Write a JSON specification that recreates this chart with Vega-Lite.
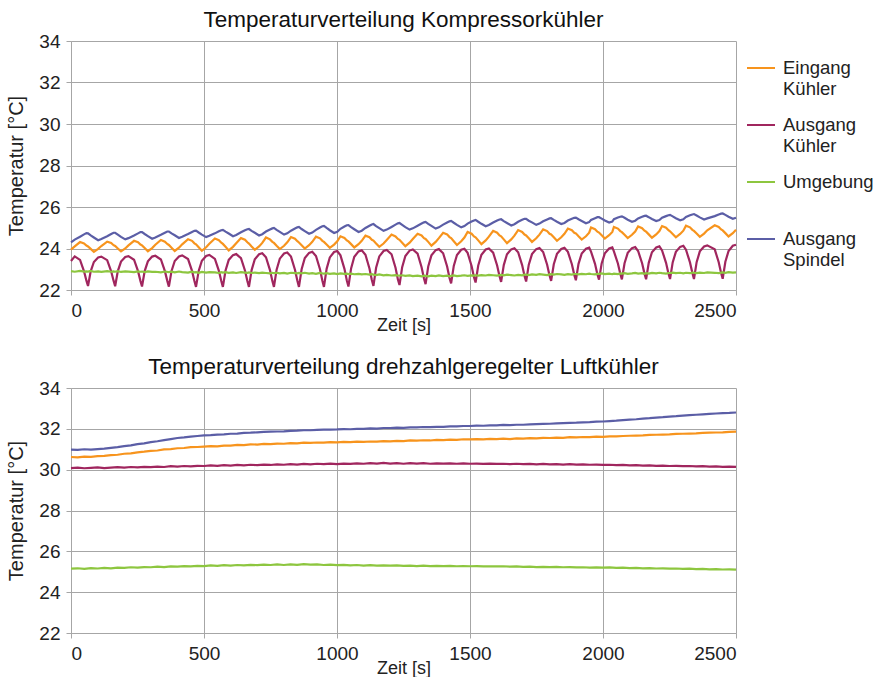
{
"$schema": "https://vega.github.io/schema/vega-lite/v6.json",
"background": "white",
"padding": {"left": 6, "top": 8, "right": 0, "bottom": 0},
"config": {
  "font": "Liberation Sans",
  "view": {"stroke": null},
  "axis": {"gridColor": "#a6a6a6", "domainColor": "#a6a6a6", "tickColor": "#a6a6a6", "labelFontSize": 19, "labelColor": "#222222", "titleFontWeight": "normal", "titleColor": "#222222", "tickSize": 5, "labelPadding": 6, "format": "d"},
  "axisX": {"titleFontSize": 18, "titlePadding": -4},
  "axisY": {"titleFontSize": 20, "titlePadding": 12},
  "title": {"fontSize": 22.5, "fontWeight": "normal", "color": "#111111", "offset": 1, "frame": "group"}
},
"datasets": {
"top": [
{"t":0,"ek":23.95,"ak":23.40,"u":22.91,"sp":24.30},
{"t":14,"ek":24.10,"ak":23.62,"u":22.88,"sp":24.43},
{"t":34,"ek":24.31,"ak":23.45,"u":22.92,"sp":24.57},
{"t":49,"ek":24.24,"ak":22.90,"u":22.89,"sp":24.68},
{"t":58,"ek":24.14,"ak":22.45,"u":22.90,"sp":24.74},
{"t":64,"ek":24.10,"ak":22.19,"u":22.89,"sp":24.73},
{"t":74,"ek":23.98,"ak":22.90,"u":22.92,"sp":24.63},
{"t":86,"ek":23.84,"ak":23.35,"u":22.88,"sp":24.53},
{"t":102,"ek":23.98,"ak":23.57,"u":22.90,"sp":24.40},
{"t":114,"ek":24.12,"ak":23.61,"u":22.87,"sp":24.46},
{"t":136,"ek":24.33,"ak":23.44,"u":22.91,"sp":24.59},
{"t":151,"ek":24.27,"ak":22.90,"u":22.88,"sp":24.70},
{"t":160,"ek":24.16,"ak":22.45,"u":22.90,"sp":24.76},
{"t":166,"ek":24.12,"ak":22.18,"u":22.88,"sp":24.76},
{"t":176,"ek":24.00,"ak":22.91,"u":22.91,"sp":24.67},
{"t":188,"ek":23.86,"ak":23.37,"u":22.87,"sp":24.56},
{"t":204,"ek":24.00,"ak":23.59,"u":22.90,"sp":24.44},
{"t":216,"ek":24.15,"ak":23.63,"u":22.89,"sp":24.50},
{"t":237,"ek":24.37,"ak":23.46,"u":22.86,"sp":24.63},
{"t":252,"ek":24.30,"ak":22.91,"u":22.90,"sp":24.73},
{"t":261,"ek":24.19,"ak":22.44,"u":22.88,"sp":24.79},
{"t":267,"ek":24.15,"ak":22.17,"u":22.89,"sp":24.79},
{"t":277,"ek":24.02,"ak":22.91,"u":22.86,"sp":24.70},
{"t":289,"ek":23.87,"ak":23.38,"u":22.90,"sp":24.60},
{"t":305,"ek":24.02,"ak":23.61,"u":22.87,"sp":24.47},
{"t":317,"ek":24.18,"ak":23.65,"u":22.88,"sp":24.53},
{"t":338,"ek":24.41,"ak":23.47,"u":22.85,"sp":24.66},
{"t":353,"ek":24.33,"ak":22.91,"u":22.89,"sp":24.76},
{"t":362,"ek":24.22,"ak":22.44,"u":22.87,"sp":24.82},
{"t":368,"ek":24.17,"ak":22.16,"u":22.86,"sp":24.82},
{"t":378,"ek":24.04,"ak":22.92,"u":22.88,"sp":24.73},
{"t":390,"ek":23.88,"ak":23.40,"u":22.85,"sp":24.64},
{"t":406,"ek":24.04,"ak":23.62,"u":22.89,"sp":24.51},
{"t":418,"ek":24.20,"ak":23.67,"u":22.86,"sp":24.57},
{"t":440,"ek":24.45,"ak":23.49,"u":22.84,"sp":24.70},
{"t":455,"ek":24.37,"ak":22.92,"u":22.88,"sp":24.80},
{"t":464,"ek":24.25,"ak":22.43,"u":22.85,"sp":24.85},
{"t":470,"ek":24.20,"ak":22.15,"u":22.86,"sp":24.86},
{"t":480,"ek":24.06,"ak":22.92,"u":22.83,"sp":24.77},
{"t":492,"ek":23.89,"ak":23.41,"u":22.87,"sp":24.67},
{"t":508,"ek":24.06,"ak":23.64,"u":22.84,"sp":24.55},
{"t":520,"ek":24.23,"ak":23.69,"u":22.86,"sp":24.61},
{"t":541,"ek":24.48,"ak":23.50,"u":22.85,"sp":24.73},
{"t":556,"ek":24.40,"ak":22.92,"u":22.82,"sp":24.83},
{"t":565,"ek":24.28,"ak":22.43,"u":22.86,"sp":24.88},
{"t":571,"ek":24.22,"ak":22.15,"u":22.84,"sp":24.90},
{"t":581,"ek":24.08,"ak":22.94,"u":22.86,"sp":24.81},
{"t":593,"ek":23.91,"ak":23.45,"u":22.83,"sp":24.72},
{"t":609,"ek":24.08,"ak":23.68,"u":22.85,"sp":24.59},
{"t":621,"ek":24.25,"ak":23.73,"u":22.82,"sp":24.65},
{"t":639,"ek":24.50,"ak":23.54,"u":22.86,"sp":24.78},
{"t":654,"ek":24.42,"ak":22.94,"u":22.84,"sp":24.88},
{"t":663,"ek":24.30,"ak":22.43,"u":22.83,"sp":24.93},
{"t":669,"ek":24.24,"ak":22.15,"u":22.85,"sp":24.94},
{"t":679,"ek":24.10,"ak":22.96,"u":22.82,"sp":24.85},
{"t":691,"ek":23.94,"ak":23.48,"u":22.84,"sp":24.76},
{"t":707,"ek":24.10,"ak":23.72,"u":22.81,"sp":24.63},
{"t":719,"ek":24.27,"ak":23.77,"u":22.84,"sp":24.69},
{"t":733,"ek":24.53,"ak":23.58,"u":22.82,"sp":24.82},
{"t":748,"ek":24.44,"ak":22.96,"u":22.80,"sp":24.92},
{"t":757,"ek":24.32,"ak":22.44,"u":22.83,"sp":24.97},
{"t":763,"ek":24.27,"ak":22.15,"u":22.81,"sp":24.99},
{"t":773,"ek":24.13,"ak":22.98,"u":22.83,"sp":24.90},
{"t":785,"ek":23.97,"ak":23.51,"u":22.80,"sp":24.80},
{"t":801,"ek":24.13,"ak":23.76,"u":22.82,"sp":24.67},
{"t":813,"ek":24.30,"ak":23.81,"u":22.79,"sp":24.73},
{"t":827,"ek":24.55,"ak":23.61,"u":22.83,"sp":24.86},
{"t":842,"ek":24.47,"ak":22.98,"u":22.81,"sp":24.96},
{"t":851,"ek":24.35,"ak":22.45,"u":22.80,"sp":25.02},
{"t":857,"ek":24.29,"ak":22.15,"u":22.82,"sp":25.04},
{"t":867,"ek":24.16,"ak":23.00,"u":22.80,"sp":24.94},
{"t":879,"ek":24.00,"ak":23.54,"u":22.83,"sp":24.84},
{"t":895,"ek":24.16,"ak":23.79,"u":22.79,"sp":24.71},
{"t":907,"ek":24.32,"ak":23.84,"u":22.81,"sp":24.77},
{"t":921,"ek":24.57,"ak":23.64,"u":22.78,"sp":24.90},
{"t":936,"ek":24.49,"ak":23.00,"u":22.82,"sp":25.01},
{"t":945,"ek":24.37,"ak":22.45,"u":22.80,"sp":25.07},
{"t":951,"ek":24.32,"ak":22.15,"u":22.79,"sp":25.09},
{"t":961,"ek":24.19,"ak":23.02,"u":22.81,"sp":24.99},
{"t":973,"ek":24.03,"ak":23.57,"u":22.78,"sp":24.88},
{"t":989,"ek":24.19,"ak":23.83,"u":22.80,"sp":24.75},
{"t":1001,"ek":24.35,"ak":23.88,"u":22.77,"sp":24.81},
{"t":1013,"ek":24.59,"ak":23.67,"u":22.80,"sp":24.95},
{"t":1028,"ek":24.51,"ak":23.02,"u":22.78,"sp":25.06},
{"t":1037,"ek":24.39,"ak":22.46,"u":22.79,"sp":25.12},
{"t":1043,"ek":24.34,"ak":22.17,"u":22.77,"sp":25.13},
{"t":1053,"ek":24.21,"ak":23.04,"u":22.79,"sp":25.03},
{"t":1065,"ek":24.05,"ak":23.60,"u":22.76,"sp":24.93},
{"t":1081,"ek":24.21,"ak":23.86,"u":22.78,"sp":24.80},
{"t":1093,"ek":24.37,"ak":23.91,"u":22.75,"sp":24.86},
{"t":1107,"ek":24.62,"ak":23.70,"u":22.77,"sp":24.99},
{"t":1122,"ek":24.54,"ak":23.04,"u":22.74,"sp":25.10},
{"t":1131,"ek":24.42,"ak":22.48,"u":22.76,"sp":25.16},
{"t":1137,"ek":24.38,"ak":22.20,"u":22.74,"sp":25.18},
{"t":1147,"ek":24.24,"ak":23.07,"u":22.72,"sp":25.08},
{"t":1159,"ek":24.08,"ak":23.62,"u":22.75,"sp":24.98},
{"t":1175,"ek":24.24,"ak":23.88,"u":22.71,"sp":24.85},
{"t":1187,"ek":24.41,"ak":23.93,"u":22.73,"sp":24.91},
{"t":1205,"ek":24.67,"ak":23.72,"u":22.70,"sp":25.04},
{"t":1220,"ek":24.58,"ak":23.07,"u":22.72,"sp":25.15},
{"t":1229,"ek":24.46,"ak":22.51,"u":22.70,"sp":25.21},
{"t":1235,"ek":24.42,"ak":22.24,"u":22.69,"sp":25.23},
{"t":1245,"ek":24.28,"ak":23.10,"u":22.71,"sp":25.14},
{"t":1257,"ek":24.11,"ak":23.64,"u":22.68,"sp":25.03},
{"t":1273,"ek":24.28,"ak":23.90,"u":22.70,"sp":24.91},
{"t":1285,"ek":24.46,"ak":23.95,"u":22.67,"sp":24.97},
{"t":1303,"ek":24.71,"ak":23.75,"u":22.69,"sp":25.10},
{"t":1318,"ek":24.63,"ak":23.10,"u":22.66,"sp":25.20},
{"t":1327,"ek":24.50,"ak":22.55,"u":22.69,"sp":25.26},
{"t":1333,"ek":24.46,"ak":22.28,"u":22.68,"sp":25.28},
{"t":1343,"ek":24.32,"ak":23.13,"u":22.66,"sp":25.19},
{"t":1355,"ek":24.14,"ak":23.67,"u":22.69,"sp":25.09},
{"t":1371,"ek":24.32,"ak":23.92,"u":22.67,"sp":24.96},
{"t":1383,"ek":24.50,"ak":23.97,"u":22.70,"sp":25.02},
{"t":1399,"ek":24.76,"ak":23.77,"u":22.67,"sp":25.15},
{"t":1414,"ek":24.68,"ak":23.13,"u":22.69,"sp":25.25},
{"t":1423,"ek":24.55,"ak":22.58,"u":22.66,"sp":25.31},
{"t":1429,"ek":24.50,"ak":22.32,"u":22.68,"sp":25.33},
{"t":1439,"ek":24.35,"ak":23.16,"u":22.70,"sp":25.24},
{"t":1451,"ek":24.17,"ak":23.69,"u":22.67,"sp":25.14},
{"t":1467,"ek":24.35,"ak":23.94,"u":22.69,"sp":25.02},
{"t":1479,"ek":24.53,"ak":23.99,"u":22.71,"sp":25.08},
{"t":1491,"ek":24.80,"ak":23.79,"u":22.68,"sp":25.20},
{"t":1506,"ek":24.71,"ak":23.16,"u":22.70,"sp":25.30},
{"t":1515,"ek":24.58,"ak":22.62,"u":22.69,"sp":25.35},
{"t":1521,"ek":24.54,"ak":22.36,"u":22.71,"sp":25.38},
{"t":1531,"ek":24.39,"ak":23.18,"u":22.69,"sp":25.29},
{"t":1543,"ek":24.21,"ak":23.70,"u":22.72,"sp":25.19},
{"t":1559,"ek":24.39,"ak":23.95,"u":22.70,"sp":25.07},
{"t":1571,"ek":24.57,"ak":24.00,"u":22.73,"sp":25.13},
{"t":1587,"ek":24.85,"ak":23.80,"u":22.71,"sp":25.25},
{"t":1602,"ek":24.76,"ak":23.18,"u":22.69,"sp":25.35},
{"t":1611,"ek":24.63,"ak":22.66,"u":22.72,"sp":25.40},
{"t":1617,"ek":24.59,"ak":22.39,"u":22.73,"sp":25.41},
{"t":1627,"ek":24.44,"ak":23.20,"u":22.71,"sp":25.32},
{"t":1639,"ek":24.26,"ak":23.72,"u":22.74,"sp":25.23},
{"t":1655,"ek":24.44,"ak":23.96,"u":22.72,"sp":25.11},
{"t":1667,"ek":24.62,"ak":24.01,"u":22.70,"sp":25.17},
{"t":1681,"ek":24.89,"ak":23.82,"u":22.73,"sp":25.29},
{"t":1696,"ek":24.80,"ak":23.20,"u":22.71,"sp":25.38},
{"t":1705,"ek":24.67,"ak":22.68,"u":22.74,"sp":25.43},
{"t":1711,"ek":24.63,"ak":22.41,"u":22.74,"sp":25.43},
{"t":1721,"ek":24.49,"ak":23.22,"u":22.72,"sp":25.34},
{"t":1733,"ek":24.32,"ak":23.73,"u":22.75,"sp":25.26},
{"t":1749,"ek":24.49,"ak":23.97,"u":22.73,"sp":25.14},
{"t":1761,"ek":24.67,"ak":24.02,"u":22.76,"sp":25.20},
{"t":1775,"ek":24.92,"ak":23.83,"u":22.74,"sp":25.31},
{"t":1790,"ek":24.84,"ak":23.22,"u":22.72,"sp":25.40},
{"t":1799,"ek":24.71,"ak":22.70,"u":22.75,"sp":25.45},
{"t":1805,"ek":24.68,"ak":22.44,"u":22.76,"sp":25.46},
{"t":1815,"ek":24.54,"ak":23.24,"u":22.74,"sp":25.38},
{"t":1827,"ek":24.37,"ak":23.74,"u":22.77,"sp":25.29},
{"t":1843,"ek":24.54,"ak":23.98,"u":22.75,"sp":25.18},
{"t":1855,"ek":24.71,"ak":24.03,"u":22.73,"sp":25.23},
{"t":1868,"ek":24.96,"ak":23.84,"u":22.76,"sp":25.35},
{"t":1883,"ek":24.88,"ak":23.24,"u":22.74,"sp":25.43},
{"t":1892,"ek":24.76,"ak":22.73,"u":22.77,"sp":25.48},
{"t":1898,"ek":24.73,"ak":22.47,"u":22.77,"sp":25.49},
{"t":1908,"ek":24.59,"ak":23.26,"u":22.75,"sp":25.41},
{"t":1920,"ek":24.43,"ak":23.76,"u":22.78,"sp":25.33},
{"t":1936,"ek":24.59,"ak":23.99,"u":22.76,"sp":25.22},
{"t":1948,"ek":24.76,"ak":24.04,"u":22.79,"sp":25.27},
{"t":1955,"ek":25.01,"ak":23.85,"u":22.77,"sp":25.38},
{"t":1970,"ek":24.93,"ak":23.26,"u":22.75,"sp":25.46},
{"t":1979,"ek":24.81,"ak":22.75,"u":22.78,"sp":25.51},
{"t":1985,"ek":24.77,"ak":22.50,"u":22.78,"sp":25.51},
{"t":1995,"ek":24.64,"ak":23.28,"u":22.80,"sp":25.44},
{"t":2007,"ek":24.48,"ak":23.77,"u":22.77,"sp":25.35},
{"t":2023,"ek":24.64,"ak":24.00,"u":22.79,"sp":25.25},
{"t":2035,"ek":24.80,"ak":24.05,"u":22.76,"sp":25.30},
{"t":2041,"ek":25.04,"ak":23.86,"u":22.79,"sp":25.41},
{"t":2056,"ek":24.96,"ak":23.28,"u":22.77,"sp":25.49},
{"t":2065,"ek":24.84,"ak":22.78,"u":22.80,"sp":25.53},
{"t":2071,"ek":24.79,"ak":22.51,"u":22.79,"sp":25.55},
{"t":2081,"ek":24.66,"ak":23.29,"u":22.81,"sp":25.48},
{"t":2093,"ek":24.50,"ak":23.79,"u":22.78,"sp":25.39},
{"t":2109,"ek":24.66,"ak":24.02,"u":22.80,"sp":25.29},
{"t":2121,"ek":24.82,"ak":24.07,"u":22.82,"sp":25.34},
{"t":2132,"ek":25.06,"ak":23.88,"u":22.79,"sp":25.45},
{"t":2147,"ek":24.98,"ak":23.29,"u":22.81,"sp":25.53},
{"t":2156,"ek":24.86,"ak":22.79,"u":22.78,"sp":25.57},
{"t":2162,"ek":24.81,"ak":22.52,"u":22.81,"sp":25.58},
{"t":2172,"ek":24.68,"ak":23.31,"u":22.79,"sp":25.51},
{"t":2184,"ek":24.52,"ak":23.82,"u":22.82,"sp":25.42},
{"t":2200,"ek":24.68,"ak":24.05,"u":22.80,"sp":25.32},
{"t":2212,"ek":24.84,"ak":24.10,"u":22.83,"sp":25.37},
{"t":2222,"ek":25.08,"ak":23.91,"u":22.81,"sp":25.48},
{"t":2237,"ek":25.00,"ak":23.31,"u":22.79,"sp":25.56},
{"t":2246,"ek":24.88,"ak":22.80,"u":22.82,"sp":25.60},
{"t":2252,"ek":24.83,"ak":22.53,"u":22.82,"sp":25.62},
{"t":2262,"ek":24.70,"ak":23.33,"u":22.84,"sp":25.55},
{"t":2274,"ek":24.54,"ak":23.84,"u":22.81,"sp":25.46},
{"t":2290,"ek":24.70,"ak":24.08,"u":22.83,"sp":25.36},
{"t":2302,"ek":24.86,"ak":24.13,"u":22.80,"sp":25.41},
{"t":2312,"ek":25.10,"ak":23.94,"u":22.83,"sp":25.52},
{"t":2327,"ek":25.02,"ak":23.33,"u":22.81,"sp":25.60},
{"t":2336,"ek":24.90,"ak":22.82,"u":22.84,"sp":25.64},
{"t":2342,"ek":24.85,"ak":22.53,"u":22.83,"sp":25.66},
{"t":2352,"ek":24.72,"ak":23.34,"u":22.81,"sp":25.59},
{"t":2364,"ek":24.56,"ak":23.86,"u":22.84,"sp":25.50},
{"t":2380,"ek":24.72,"ak":24.10,"u":22.82,"sp":25.40},
{"t":2392,"ek":24.88,"ak":24.15,"u":22.85,"sp":25.45},
{"t":2420,"ek":25.12,"ak":23.96,"u":22.83,"sp":25.56},
{"t":2435,"ek":25.04,"ak":23.34,"u":22.81,"sp":25.64},
{"t":2444,"ek":24.92,"ak":22.82,"u":22.84,"sp":25.68},
{"t":2450,"ek":24.87,"ak":22.54,"u":22.85,"sp":25.69},
{"t":2460,"ek":24.74,"ak":23.36,"u":22.83,"sp":25.62},
{"t":2472,"ek":24.58,"ak":23.88,"u":22.86,"sp":25.53},
{"t":2488,"ek":24.74,"ak":24.13,"u":22.84,"sp":25.43},
{"t":2500,"ek":24.90,"ak":24.18,"u":22.85,"sp":25.48}
],
"bot": [
{"t":0,"ek":30.62,"ak":30.08,"u":25.15,"sp":30.98},
{"t":25,"ek":30.60,"ak":30.10,"u":25.17,"sp":30.97},
{"t":50,"ek":30.64,"ak":30.07,"u":25.14,"sp":31.00},
{"t":75,"ek":30.63,"ak":30.09,"u":25.18,"sp":30.98},
{"t":100,"ek":30.66,"ak":30.11,"u":25.16,"sp":31.01},
{"t":125,"ek":30.68,"ak":30.08,"u":25.19,"sp":31.03},
{"t":150,"ek":30.71,"ak":30.10,"u":25.17,"sp":31.07},
{"t":175,"ek":30.73,"ak":30.12,"u":25.20,"sp":31.10},
{"t":200,"ek":30.78,"ak":30.10,"u":25.19,"sp":31.15},
{"t":225,"ek":30.80,"ak":30.13,"u":25.22,"sp":31.19},
{"t":250,"ek":30.85,"ak":30.11,"u":25.20,"sp":31.25},
{"t":275,"ek":30.88,"ak":30.14,"u":25.23,"sp":31.29},
{"t":300,"ek":30.92,"ak":30.12,"u":25.22,"sp":31.35},
{"t":325,"ek":30.94,"ak":30.15,"u":25.25,"sp":31.39},
{"t":350,"ek":30.99,"ak":30.13,"u":25.23,"sp":31.45},
{"t":375,"ek":31.01,"ak":30.17,"u":25.26,"sp":31.50},
{"t":400,"ek":31.05,"ak":30.15,"u":25.25,"sp":31.55},
{"t":425,"ek":31.06,"ak":30.18,"u":25.28,"sp":31.58},
{"t":450,"ek":31.10,"ak":30.16,"u":25.26,"sp":31.62},
{"t":475,"ek":31.11,"ak":30.19,"u":25.29,"sp":31.65},
{"t":500,"ek":31.13,"ak":30.18,"u":25.28,"sp":31.68},
{"t":525,"ek":31.15,"ak":30.21,"u":25.31,"sp":31.69},
{"t":550,"ek":31.14,"ak":30.19,"u":25.29,"sp":31.72},
{"t":575,"ek":31.18,"ak":30.22,"u":25.32,"sp":31.73},
{"t":600,"ek":31.18,"ak":30.20,"u":25.30,"sp":31.76},
{"t":625,"ek":31.21,"ak":30.23,"u":25.33,"sp":31.77},
{"t":650,"ek":31.20,"ak":30.21,"u":25.31,"sp":31.80},
{"t":675,"ek":31.24,"ak":30.24,"u":25.34,"sp":31.81},
{"t":700,"ek":31.23,"ak":30.22,"u":25.32,"sp":31.83},
{"t":725,"ek":31.26,"ak":30.25,"u":25.35,"sp":31.85},
{"t":750,"ek":31.25,"ak":30.23,"u":25.33,"sp":31.86},
{"t":775,"ek":31.28,"ak":30.26,"u":25.36,"sp":31.87},
{"t":800,"ek":31.27,"ak":30.24,"u":25.33,"sp":31.88},
{"t":825,"ek":31.30,"ak":30.27,"u":25.36,"sp":31.90},
{"t":850,"ek":31.29,"ak":30.25,"u":25.34,"sp":31.91},
{"t":875,"ek":31.32,"ak":30.28,"u":25.37,"sp":31.93},
{"t":900,"ek":31.31,"ak":30.26,"u":25.35,"sp":31.93},
{"t":925,"ek":31.33,"ak":30.29,"u":25.36,"sp":31.95},
{"t":950,"ek":31.32,"ak":30.27,"u":25.33,"sp":31.96},
{"t":975,"ek":31.35,"ak":30.30,"u":25.35,"sp":31.96},
{"t":1000,"ek":31.34,"ak":30.27,"u":25.32,"sp":31.97},
{"t":1025,"ek":31.36,"ak":30.30,"u":25.34,"sp":31.99},
{"t":1050,"ek":31.35,"ak":30.28,"u":25.31,"sp":31.98},
{"t":1075,"ek":31.37,"ak":30.31,"u":25.33,"sp":32.00},
{"t":1100,"ek":31.36,"ak":30.29,"u":25.30,"sp":32.00},
{"t":1125,"ek":31.38,"ak":30.32,"u":25.32,"sp":32.02},
{"t":1150,"ek":31.37,"ak":30.30,"u":25.30,"sp":32.01},
{"t":1175,"ek":31.40,"ak":30.33,"u":25.31,"sp":32.04},
{"t":1200,"ek":31.39,"ak":30.30,"u":25.30,"sp":32.04},
{"t":1225,"ek":31.41,"ak":30.32,"u":25.31,"sp":32.06},
{"t":1250,"ek":31.40,"ak":30.29,"u":25.29,"sp":32.05},
{"t":1275,"ek":31.43,"ak":30.32,"u":25.30,"sp":32.07},
{"t":1300,"ek":31.42,"ak":30.30,"u":25.28,"sp":32.07},
{"t":1325,"ek":31.44,"ak":30.32,"u":25.30,"sp":32.09},
{"t":1350,"ek":31.43,"ak":30.29,"u":25.28,"sp":32.08},
{"t":1375,"ek":31.46,"ak":30.31,"u":25.29,"sp":32.10},
{"t":1400,"ek":31.45,"ak":30.30,"u":25.28,"sp":32.10},
{"t":1425,"ek":31.47,"ak":30.31,"u":25.29,"sp":32.12},
{"t":1450,"ek":31.46,"ak":30.29,"u":25.27,"sp":32.12},
{"t":1475,"ek":31.49,"ak":30.31,"u":25.28,"sp":32.14},
{"t":1500,"ek":31.48,"ak":30.29,"u":25.27,"sp":32.14},
{"t":1525,"ek":31.50,"ak":30.30,"u":25.28,"sp":32.16},
{"t":1550,"ek":31.48,"ak":30.28,"u":25.26,"sp":32.15},
{"t":1575,"ek":31.51,"ak":30.30,"u":25.27,"sp":32.17},
{"t":1600,"ek":31.50,"ak":30.28,"u":25.26,"sp":32.17},
{"t":1625,"ek":31.52,"ak":30.29,"u":25.27,"sp":32.19},
{"t":1650,"ek":31.50,"ak":30.27,"u":25.25,"sp":32.18},
{"t":1675,"ek":31.53,"ak":30.29,"u":25.26,"sp":32.20},
{"t":1700,"ek":31.52,"ak":30.27,"u":25.24,"sp":32.20},
{"t":1725,"ek":31.54,"ak":30.28,"u":25.25,"sp":32.22},
{"t":1750,"ek":31.53,"ak":30.26,"u":25.23,"sp":32.23},
{"t":1775,"ek":31.56,"ak":30.28,"u":25.24,"sp":32.24},
{"t":1800,"ek":31.55,"ak":30.26,"u":25.23,"sp":32.25},
{"t":1825,"ek":31.57,"ak":30.27,"u":25.24,"sp":32.27},
{"t":1850,"ek":31.56,"ak":30.25,"u":25.22,"sp":32.28},
{"t":1875,"ek":31.59,"ak":30.27,"u":25.23,"sp":32.29},
{"t":1900,"ek":31.58,"ak":30.25,"u":25.21,"sp":32.30},
{"t":1925,"ek":31.60,"ak":30.26,"u":25.22,"sp":32.32},
{"t":1950,"ek":31.59,"ak":30.24,"u":25.20,"sp":32.33},
{"t":1975,"ek":31.62,"ak":30.25,"u":25.21,"sp":32.35},
{"t":2000,"ek":31.61,"ak":30.23,"u":25.20,"sp":32.36},
{"t":2025,"ek":31.63,"ak":30.24,"u":25.21,"sp":32.38},
{"t":2050,"ek":31.63,"ak":30.22,"u":25.19,"sp":32.40},
{"t":2075,"ek":31.65,"ak":30.23,"u":25.20,"sp":32.43},
{"t":2100,"ek":31.66,"ak":30.21,"u":25.18,"sp":32.45},
{"t":2125,"ek":31.67,"ak":30.22,"u":25.19,"sp":32.47},
{"t":2150,"ek":31.68,"ak":30.20,"u":25.17,"sp":32.50},
{"t":2175,"ek":31.70,"ak":30.21,"u":25.18,"sp":32.52},
{"t":2200,"ek":31.71,"ak":30.19,"u":25.16,"sp":32.55},
{"t":2225,"ek":31.72,"ak":30.20,"u":25.17,"sp":32.57},
{"t":2250,"ek":31.73,"ak":30.18,"u":25.15,"sp":32.60},
{"t":2275,"ek":31.75,"ak":30.19,"u":25.16,"sp":32.62},
{"t":2300,"ek":31.76,"ak":30.17,"u":25.14,"sp":32.65},
{"t":2325,"ek":31.77,"ak":30.18,"u":25.15,"sp":32.67},
{"t":2350,"ek":31.78,"ak":30.16,"u":25.13,"sp":32.69},
{"t":2375,"ek":31.80,"ak":30.17,"u":25.14,"sp":32.71},
{"t":2400,"ek":31.81,"ak":30.15,"u":25.12,"sp":32.73},
{"t":2425,"ek":31.82,"ak":30.16,"u":25.13,"sp":32.75},
{"t":2450,"ek":31.83,"ak":30.14,"u":25.11,"sp":32.77},
{"t":2475,"ek":31.85,"ak":30.15,"u":25.12,"sp":32.78},
{"t":2500,"ek":31.86,"ak":30.14,"u":25.10,"sp":32.80}
]
},
"spacing": 21,
"resolve": {"legend": {"color": "independent"}},
"vconcat": [
{
  "title": "Temperaturverteilung Kompressorkühler",
  "width": 665, "height": 249,
  "data": {"name": "top"},
  "transform": [{"fold": ["ek","ak","u","sp"], "as": ["s","v"]}],
  "mark": {"type": "line", "strokeWidth": 2.2},
  "encoding": {
    "x": {"field": "t", "type": "quantitative", "scale": {"domain": [0,2500], "nice": false}, "axis": {"title": "Zeit [s]", "values": [0,500,1000,1500,2000,2500]}},
    "y": {"field": "v", "type": "quantitative", "scale": {"domain": [22,34], "nice": false, "zero": false}, "axis": {"title": "Temperatur [°C]", "values": [22,24,26,28,30,32,34]}},
    "color": {"field": "s", "type": "nominal", "sort": ["ek","ak","u","sp"],
      "scale": {"domain": ["ek","ak","u","sp"], "range": ["#F7941D","#A0265E","#8DC63F","#5B5EA6"]},
      "legend": {"title": null, "orient": "right", "offset": -7, "padding": 12, "symbolType": "stroke", "symbolSize": 784, "symbolStrokeWidth": 2, "labelFontSize": 18.5, "labelColor": "#222222", "labelOffset": 7, "labelLimit": 200, "rowPadding": 12, "labelBaseline": "middle", "gridAlign": "all",
        "labelExpr": "datum.value == 'ek' ? ['Eingang','Kühler'] : datum.value == 'ak' ? ['Ausgang','Kühler'] : datum.value == 'u' ? 'Umgebung' : ['Ausgang','Spindel']"}
    }
  }
},
{
  "title": "Temperaturverteilung drehzahlgeregelter Luftkühler",
  "width": 665, "height": 245,
  "data": {"name": "bot"},
  "transform": [{"fold": ["ek","ak","u","sp"], "as": ["s","v"]}],
  "mark": {"type": "line", "strokeWidth": 2.2},
  "encoding": {
    "x": {"field": "t", "type": "quantitative", "scale": {"domain": [0,2500], "nice": false}, "axis": {"title": "Zeit [s]", "values": [0,500,1000,1500,2000,2500]}},
    "y": {"field": "v", "type": "quantitative", "scale": {"domain": [22,34], "nice": false, "zero": false}, "axis": {"title": "Temperatur [°C]", "values": [22,24,26,28,30,32,34]}},
    "color": {"field": "s", "type": "nominal", "sort": ["ek","ak","u","sp"],
      "scale": {"domain": ["ek","ak","u","sp"], "range": ["#F7941D","#A0265E","#8DC63F","#5B5EA6"]},
      "legend": null
    }
  }
}
]
}
